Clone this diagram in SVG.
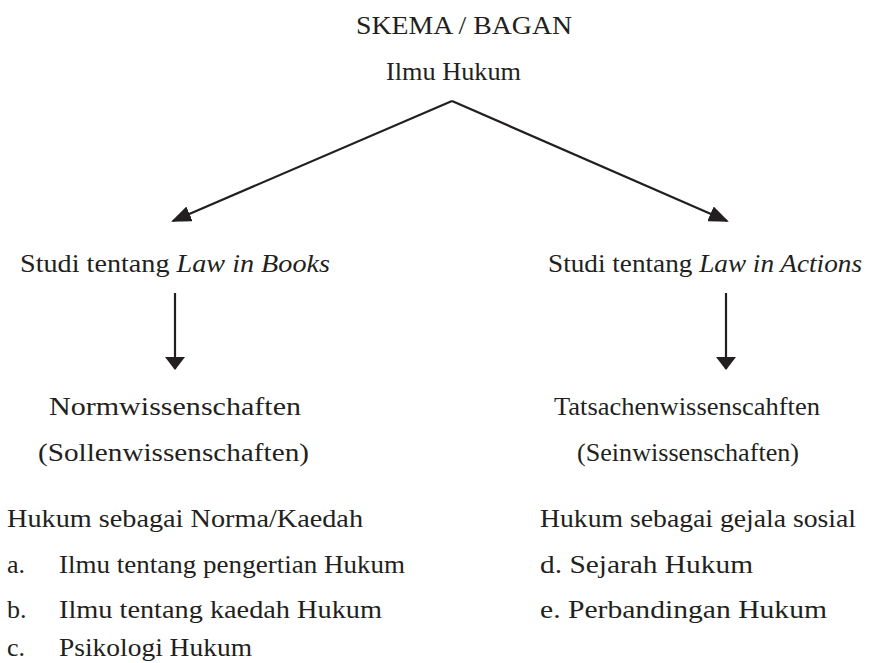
<svg xmlns="http://www.w3.org/2000/svg" width="879" height="663" viewBox="0 0 879 663">
<style>
text{font-family:"Liberation Serif","DejaVu Serif",serif;fill:#231f20;font-size:26px}
.t{font-size:26px}
.i{font-style:italic}
.ln{stroke:#231f20;stroke-width:2.2;fill:none}
</style>
<defs>
<marker id="ah" viewBox="0 0 20 16" refX="18" refY="8" markerWidth="20" markerHeight="16" markerUnits="userSpaceOnUse" orient="auto">
<path d="M0,0 L20,8 L0,16 Z" fill="#231f20"/>
</marker>
<marker id="av" viewBox="0 0 13 20" refX="12" refY="10" markerWidth="13" markerHeight="20" markerUnits="userSpaceOnUse" orient="auto">
<path d="M0,0 L13,10 L0,20 Z" fill="#231f20"/>
</marker>
</defs>
<g id="title"><text class="t" x="356" y="34" textLength="216" lengthAdjust="spacingAndGlyphs">SKEMA / BAGAN</text></g>
<g id="root"><text class="t" x="386" y="80" textLength="135" lengthAdjust="spacingAndGlyphs">Ilmu Hukum</text></g>
<g id="connectors">
<path class="ln" d="M452,101 L173,221" marker-end="url(#ah)"/>
<path class="ln" d="M452,101 L727,221" marker-end="url(#ah)"/>
<path class="ln" d="M175,293 L175,369" marker-end="url(#av)"/>
<path class="ln" d="M726,293 L726,369" marker-end="url(#av)"/>
</g>
<g id="books"><text x="20" y="272" textLength="310" lengthAdjust="spacingAndGlyphs">Studi tentang <tspan class="i">Law in Books</tspan></text></g>
<g id="actions"><text x="548" y="272" textLength="314" lengthAdjust="spacingAndGlyphs">Studi tentang <tspan class="i">Law in Actions</tspan></text></g>
<g id="norm">
<text x="49" y="415" textLength="252" lengthAdjust="spacingAndGlyphs">Normwissenschaften</text>
<text x="38" y="461" textLength="271" lengthAdjust="spacingAndGlyphs">(Sollenwissenschaften)</text>
</g>
<g id="tatsachen">
<text x="554" y="415" textLength="266" lengthAdjust="spacingAndGlyphs">Tatsachenwissenscahften</text>
<text x="577" y="461" textLength="222" lengthAdjust="spacingAndGlyphs">(Seinwissenschaften)</text>
</g>
<g id="list-left">
<text x="7" y="527" textLength="356" lengthAdjust="spacingAndGlyphs">Hukum sebagai Norma/Kaedah</text>
<text x="7" y="573">a.</text>
<text x="59" y="573" textLength="346" lengthAdjust="spacingAndGlyphs">Ilmu tentang pengertian Hukum</text>
<text x="7" y="618">b.</text>
<text x="59" y="618" textLength="323" lengthAdjust="spacingAndGlyphs">Ilmu tentang kaedah Hukum</text>
<text x="7" y="656">c.</text>
<text x="59" y="656" textLength="193" lengthAdjust="spacingAndGlyphs">Psikologi Hukum</text>
</g>
<g id="list-right">
<text x="540" y="527" textLength="316" lengthAdjust="spacingAndGlyphs">Hukum sebagai gejala sosial</text>
<text x="540" y="573" textLength="213" lengthAdjust="spacingAndGlyphs">d. Sejarah Hukum</text>
<text x="540" y="618" textLength="287" lengthAdjust="spacingAndGlyphs">e. Perbandingan Hukum</text>
</g>
</svg>
